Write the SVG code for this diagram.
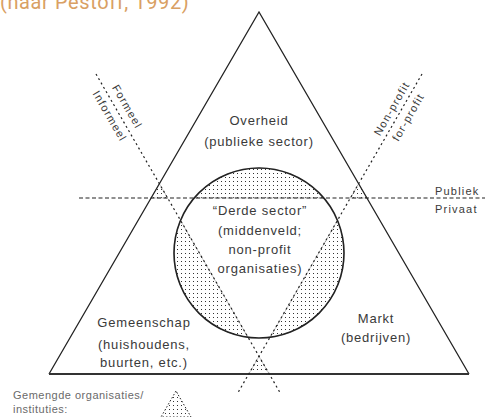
<svg xmlns="http://www.w3.org/2000/svg" width="485" height="417" viewBox="0 0 485 417">
<style>
  .lbl { font-family: "Liberation Sans", Arial, sans-serif; font-size: 13px; fill: #3a3a3a; text-anchor: middle; letter-spacing: 0.8px; }
  .sm { font-family: "Liberation Sans", Arial, sans-serif; font-size: 11px; fill: #3a3a3a; letter-spacing: 1.2px; }
  .leg { font-family: "Liberation Sans", Arial, sans-serif; font-size: 11px; fill: #6a6a6a; letter-spacing: 0.5px; }
  .title { font-family: Roboto, "Open Sans", sans-serif; font-size: 20px; fill: #D9A063; letter-spacing: 0.6px; }
  .hatch { fill: url(#dots); stroke: #b0b0b0; stroke-width: 0.7; }
  .diag { stroke: #222; stroke-width: 1.2; stroke-dasharray: 2 3; fill: none; }
  .horiz { stroke: #222; stroke-width: 1.2; stroke-dasharray: 4 2.5; fill: none; }
</style>
<defs>
  <pattern id="dots" width="4" height="4" patternUnits="userSpaceOnUse">
    <rect x="1" y="1" width="1" height="1" fill="#333"/>
  </pattern>
</defs>
<rect width="485" height="417" fill="#fff"/>
<text class="title" x="0" y="9">(naar Pestoff, 1992)</text>

<g id="hatched">
  <path class="hatch" d="M194.2,198 A85,85 0 0 1 323.8,198 Z"/>
  <path class="hatch" d="M180.5,220.4 A85,85 0 0 0 247.9,337.3 Z"/>
  <path class="hatch" d="M337.5,220.4 A85,85 0 0 1 270.1,337.3 Z"/>
  <path class="hatch" d="M159.4,183.8 L151.1,198 L167.6,198 Z"/>
  <path class="hatch" d="M358.6,183.8 L366.9,198 L350.4,198 Z"/>
  <path class="hatch" d="M259,356.3 L248.8,374 L269.2,374 Z"/>
</g>

<g id="triangle">
  <path d="M49,374 L259,12 L469,374" fill="none" stroke="#222" stroke-width="1.3" stroke-linejoin="miter"/>
  <line x1="49" y1="374" x2="469" y2="374" stroke="#333" stroke-width="2"/>
</g>
<g id="circle">
  <circle cx="259" cy="253" r="85" fill="none" stroke="#222" stroke-width="1.6"/>
</g>

<g id="connectors">
  <line class="horiz" x1="79" y1="198" x2="485" y2="198"/>
  <line class="diag" x1="96" y1="74" x2="280.8" y2="394"/>
  <line class="diag" x1="422" y1="74" x2="237.2" y2="394"/>
</g>

<g id="overheid">
  <text class="lbl" x="259" y="124.5">Overheid</text>
  <text class="lbl" x="259" y="145.5">(publieke sector)</text>
</g>
<g id="derde-sector">
  <text class="lbl" x="260" y="215">“Derde sector”</text>
  <text class="lbl" x="260" y="234.5">(middenveld;</text>
  <text class="lbl" x="260" y="254">non-profit</text>
  <text class="lbl" x="260" y="273">organisaties)</text>
</g>
<g id="gemeenschap">
  <text class="lbl" x="144" y="326.5">Gemeenschap</text>
  <text class="lbl" x="144" y="348.5">(huishoudens,</text>
  <text class="lbl" x="144" y="367">buurten, etc.)</text>
</g>
<g id="markt">
  <text class="lbl" x="376" y="323">Markt</text>
  <text class="lbl" x="376" y="342">(bedrijven)</text>
</g>
<g id="publiek-privaat">
  <text class="sm" x="435" y="195">Publiek</text>
  <text class="sm" x="435" y="213">Privaat</text>
</g>
<g id="formeel-informeel">
  <text class="sm" text-anchor="middle" transform="translate(124,108.5) rotate(60)">Formeel</text>
  <text class="sm" text-anchor="middle" transform="translate(106.5,118) rotate(60)">Informeel</text>
</g>
<g id="nonprofit-forprofit">
  <text class="sm" text-anchor="middle" transform="translate(395,110.5) rotate(-60)">Non-profit</text>
  <text class="sm" text-anchor="middle" transform="translate(411.5,119) rotate(-60)">for-profit</text>
</g>
<g id="legend">
  <text class="leg" x="13" y="399">Gemengde organisaties/</text>
  <text class="leg" x="13" y="413">instituties:</text>
  <path class="hatch" d="M176,391 L161,417 L191,417 Z" style="stroke:#222;stroke-width:1;stroke-dasharray:1.5 2"/>
</g>
</svg>
